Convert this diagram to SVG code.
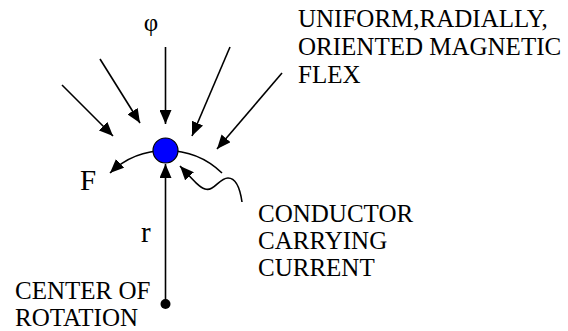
<svg xmlns="http://www.w3.org/2000/svg" width="568" height="331" viewBox="0 0 568 331">
<style>
.t{font-family:"Liberation Serif","Times New Roman",serif;font-size:25px;fill:#000}
.big{font-size:29px}
.ln{stroke:#000;stroke-width:1.6;fill:none}
</style>
<defs>
<marker id="ah" markerUnits="userSpaceOnUse" markerWidth="16" markerHeight="12" refX="14" refY="6" orient="auto">
<path d="M0,0 L14,6 L0,12 Z" fill="#000"/>
</marker>
</defs>
<g id="connectors">
<line class="ln" x1="165.5" y1="47" x2="165.5" y2="124" marker-end="url(#ah)"/>
<line class="ln" x1="62" y1="85" x2="113" y2="136" marker-end="url(#ah)"/>
<line class="ln" x1="100" y1="59" x2="140" y2="123" marker-end="url(#ah)"/>
<line class="ln" x1="230" y1="47" x2="192" y2="136" marker-end="url(#ah)"/>
<line class="ln" x1="282" y1="73" x2="217" y2="149" marker-end="url(#ah)"/>
<path class="ln" d="M222,173 A81,81 0 0 0 110,173" marker-end="url(#ah)"/>
<line class="ln" x1="165.5" y1="304" x2="165.5" y2="164" marker-end="url(#ah)"/>
<path class="ln" d="M242,202 C240,188 236,178 228,178 C219,178 214,192 205,189 C199,187 193,180 180,166" marker-end="url(#ah)"/>
</g>
<g id="conductor">
<circle cx="165.5" cy="150.5" r="12.5" fill="#0000ff" stroke="#000" stroke-width="1.2"/>
</g>
<g id="center">
<circle cx="165.5" cy="304" r="5" fill="#000"/>
<text class="t" x="15" y="299">CENTER OF</text>
<text class="t" x="15" y="326">ROTATION</text>
</g>
<g id="labels">
<text class="t" x="151" y="31" text-anchor="middle">φ</text>
<text class="t big" x="80" y="190">F</text>
<text class="t big" x="141" y="242">r</text>
</g>
<g id="flux-label">
<text class="t" x="298" y="27">UNIFORM,RADIALLY,</text>
<text class="t" x="298" y="55">ORIENTED MAGNETIC</text>
<text class="t" x="298" y="83">FLEX</text>
</g>
<g id="conductor-label">
<text class="t" x="258" y="222">CONDUCTOR</text>
<text class="t" x="258" y="249">CARRYING</text>
<text class="t" x="258" y="276">CURRENT</text>
</g>
</svg>
